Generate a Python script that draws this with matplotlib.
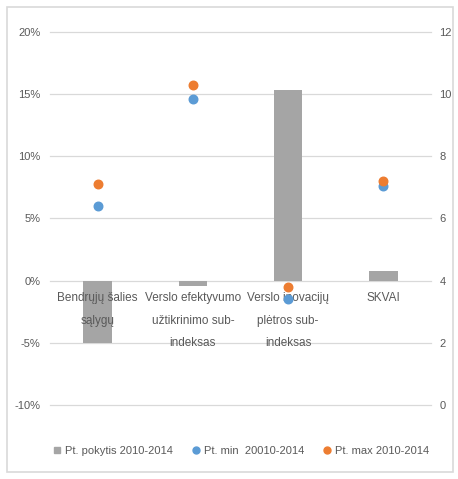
import matplotlib.pyplot as plt
import matplotlib.ticker as mticker
from matplotlib.patches import Rectangle
from matplotlib.lines import Line2D

# ── data ─────────────────────────────────────────────────────────────────────
categories = ["Bendrųjų šalies\nsąlygų",
              "Verslo efektyvumo\nužtikrinimo sub-\nindeksas",
              "Verslo inovacijų\nplėtros sub-\nindeksas",
              "SKVAI"]
change_pct = [-5.0, -0.4, 15.3, 0.8]        # left axis, %
score_min = [6.4, 9.85, 3.4, 7.05]          # right axis
score_max = [7.1, 10.3, 3.8, 7.2]           # right axis
legend_labels = ["Pt. pokytis 2010-2014", "Pt. min  20010-2014", "Pt. max 2010-2014"]

# ── style ─────────────────────────────────────────────────────────────────────
plt.rcParams.update({"font.family": ["Liberation Sans", "DejaVu Sans"], "font.size": 8})
C_BAR = "#A5A5A5"; C_MIN = "#5B9BD5"; C_MAX = "#ED7D31"
C_TXT = "#595959"; C_GRID = "#D9D9D9"

fig = plt.figure(figsize=(4.58, 4.79), dpi=100)
fig.patches.append(Rectangle((0.015, 0.015), 0.975, 0.97, transform=fig.transFigure,
                             fill=False, edgecolor="#D9D9D9", lw=1.2))
ax = fig.add_axes([0.109, 0.1545, 0.832, 0.779])
ax2 = ax.twinx()

x = list(range(len(categories)))
ax.bar(x, change_pct, width=0.3, color=C_BAR, zorder=2)
ax.set_xlim(-0.5, 3.5)
ax.set_ylim(-10, 20)
ax.yaxis.set_major_locator(mticker.MultipleLocator(5))
ax.yaxis.set_major_formatter(mticker.FuncFormatter(lambda v, p: f"{v:.0f}%"))
ax.grid(axis="y", color=C_GRID, lw=0.9, zorder=0)
ax.set_axisbelow(True)
for gl in ax.get_ygridlines():
    gl.set_clip_on(False)

ax2.scatter(x, score_min, s=38, color=C_MIN, zorder=4)
ax2.scatter(x, score_max, s=38, color=C_MAX, zorder=4)
ax2.set_ylim(0, 12)
ax2.yaxis.set_major_locator(mticker.MultipleLocator(2))

for a in (ax, ax2):
    for s in a.spines.values():
        s.set_visible(False)
    a.tick_params(length=0, colors=C_TXT, labelsize=8)
ax.tick_params(axis="y", pad=7)
ax2.tick_params(axis="y", pad=6)
ax.set_xticks([])

for i, lab in enumerate(categories):
    ax.annotate(lab, xy=(i, 0), xytext=(0, -8), textcoords="offset points",
                ha="center", va="top", fontsize=8.5, color=C_TXT,
                linespacing=2.2, zorder=5)

handles = [
    Line2D([], [], marker="s", ls="", color=C_BAR, markersize=4),
    Line2D([], [], marker="o", ls="", color=C_MIN, markersize=5),
    Line2D([], [], marker="o", ls="", color=C_MAX, markersize=5),
]
fig.legend(handles, legend_labels, loc="center", bbox_to_anchor=(0.525, 0.058),
           ncol=3, frameon=False, fontsize=8, labelcolor=C_TXT,
           handletextpad=0.2, columnspacing=1.6, handlelength=1)

fig.savefig("out.png", dpi=100, facecolor="white")
